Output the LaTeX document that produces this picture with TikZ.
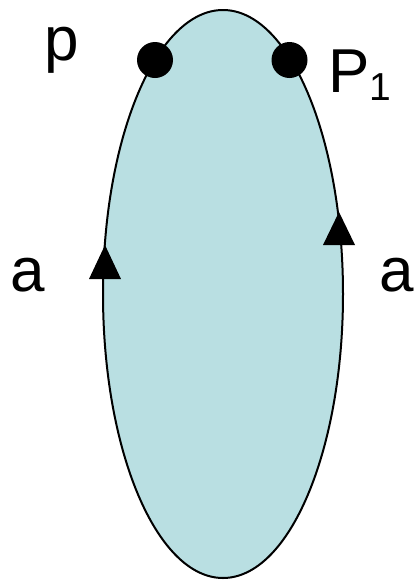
\documentclass[tikz,border=0pt]{standalone}
\usepackage{fontspec}
\setmainfont{Liberation Sans}
\definecolor{shapefill}{RGB}{185,223,226}
\begin{document}
\begin{tikzpicture}[x=1pt,y=-1pt,
  lbl/.style={inner sep=0pt,anchor=base west,font=\fontsize{62}{62}\selectfont},
  dot/.style={circle,fill=black,minimum size=36pt,inner sep=0pt},
  tip/.style={fill=black}]
\useasboundingbox (0,0) rectangle (414,584);
\draw[line width=2pt,fill=shapefill] (223,294) ellipse [x radius=120,y radius=284];
\node[dot] (d1) at (155,60) {};
\node[dot] (d2) at (289.5,60) {};
\fill[tip] (105,245) -- (89,279) -- (121,279) -- cycle;
\fill[tip] (339,212) -- (323,245) -- (355,245) -- cycle;
\node[lbl] (lp) at (44,60) {p};
\node[lbl] (lP) at (328,92) {P\raisebox{-8pt}{\fontsize{39}{39}\selectfont 1}};
\node[lbl] (la1) at (10,291) {a};
\node[lbl] (la2) at (379,291) {a};
\end{tikzpicture}
\end{document}
